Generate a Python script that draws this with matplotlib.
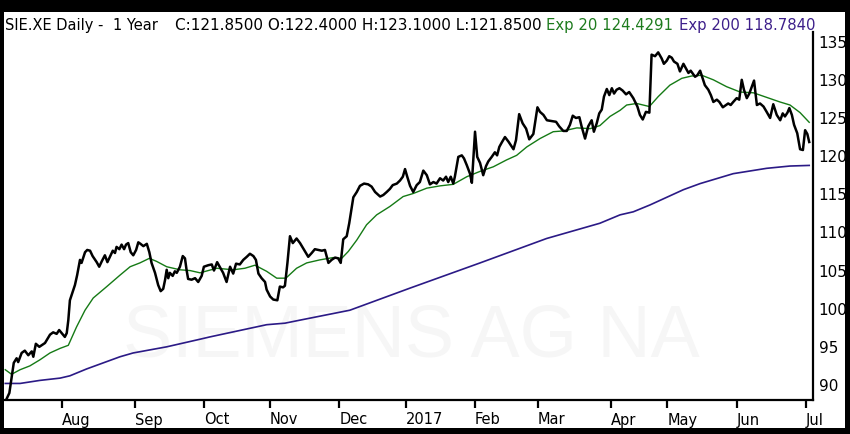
import numpy as np
import pandas as pd
import matplotlib
matplotlib.use('Agg')
import matplotlib.pyplot as plt
from matplotlib.patches import Rectangle

# trading-day index (0 = 2016-07-06)
close_day = [0, 1.3, 2.7, 3.6, 4.1, 5.2, 6.2, 7.3, 8.4, 8.9,
             9.7, 10.8, 11.5, 12.6, 14.2, 15.2, 16.3, 17.1, 17.9, 18.9,
             19.5, 20.0, 20.5, 21.4, 22.1, 22.8, 23.7, 24.2, 25.3, 26.0,
             26.9, 27.7, 29.0, 29.8, 30.6, 31.6, 32.4, 33.2, 34.1, 34.8,
             35.3, 36.2, 36.9, 37.7, 38.3, 39.0, 39.8, 40.6, 41.5, 42.2,
             42.9, 43.8, 44.9, 45.7, 46.4, 47.5, 48.5, 49.3, 50.1, 50.7,
             51.2, 51.7, 52.2, 53.1, 53.8, 54.4, 55.4, 56.3, 57.0, 57.5,
             58.0, 59.1, 60.2, 61.2, 62.3, 63.0, 64.4, 65.5, 66.2, 67.2,
             68.3, 69.1, 70.2, 71.3, 72.3, 73.2, 74.4, 75.5, 76.6, 77.6,
             78.7, 79.5, 80.3, 81.3, 82.4, 82.9, 84.0, 85.0, 86.3, 87.1,
             88.1, 88.7, 89.5, 90.3, 91.2, 92.4, 93.5, 94.5, 96.1, 97.2,
             98.2, 99.3, 100.4, 101.4, 102.5, 103.5, 104.6, 105.6, 106.4, 107.2,
             108.3, 109.1, 110.4, 111.5, 112.5, 113.8, 115.1, 116.2, 117.3, 118.9,
             119.9, 121.0, 122.0, 122.9, 124.2, 125.2, 126.1, 126.8, 127.5, 128.4,
             129.4, 130.5, 131.5, 132.6, 133.7, 134.7, 135.8, 136.8, 137.9, 138.9,
             139.8, 140.5, 141.3, 142.1, 142.6, 143.7, 144.8, 145.5, 146.4, 147.4,
             148.0, 149.0, 149.7, 150.6, 151.6, 152.5, 153.2, 154.3, 155.3, 156.0,
             156.7, 157.5, 158.5, 159.6, 161.2, 162.0, 163.0, 164.1, 165.2, 166.2,
             167.5, 168.8, 169.6, 170.7, 171.8, 173.3, 174.7, 175.7, 177.0, 178.1,
             179.1, 180.0, 181.0, 182.1, 182.8, 183.9, 184.9, 186.0, 186.7, 187.6,
             188.4, 189.2, 189.9, 190.8, 191.6, 192.4, 193.1, 193.9, 194.8, 195.8,
             196.9, 197.9, 199.2, 200.5, 201.3, 202.2, 203.2, 204.3, 205.0, 206.1,
             207.1, 208.2, 208.9, 209.8, 210.6, 211.4, 212.1, 213.2, 214.0, 215.1,
             215.9, 216.7, 217.4, 218.1, 218.8, 219.5, 220.4, 221.2, 221.9, 223.0,
             223.8, 224.6, 225.7, 226.5, 227.6, 228.6, 229.3, 230.1, 230.9, 232.0,
             232.8, 233.6, 234.3, 235.2, 236.0, 236.8, 237.5, 238.4, 239.4, 240.5,
             241.5, 242.6, 243.6, 244.7, 245.8, 246.6, 247.3, 248.1, 248.7, 249.5,
             250.2, 251.2, 252.1, 253.0, 253.7, 254.4, 255.0]
close_val = [87.8, 88.95, 92.9, 93.5, 93.0, 94.2, 94.5, 93.9, 94.4, 93.7,
             95.4, 95.0, 95.2, 95.5, 96.6, 96.9, 96.7, 97.2, 96.8, 96.3,
             96.8, 98.5, 101.1, 102.2, 103.1, 104.4, 106.4, 106.0, 107.4, 107.7,
             107.6, 106.9, 106.1, 105.5, 106.2, 107.0, 106.1, 106.8, 107.6, 107.3,
             108.1, 107.8, 108.4, 107.8, 108.4, 108.6, 107.4, 107.0, 107.7, 108.7,
             108.5, 108.2, 108.5, 107.4, 106.0, 104.7, 103.1, 102.3, 102.6, 103.8,
             105.1, 104.0, 104.7, 104.3, 104.9, 104.7, 105.5, 106.9, 106.6, 105.1,
             103.9, 103.8, 104.0, 103.5, 104.3, 105.5, 105.7, 105.8, 105.0, 106.1,
             105.3, 104.7, 103.5, 105.5, 104.6, 105.9, 105.8, 106.4, 106.8, 107.2,
             106.9, 106.4, 104.6, 104.0, 103.5, 102.5, 101.6, 101.2, 101.1, 102.9,
             102.8, 103.0, 106.0, 109.5, 108.6, 109.2, 108.6, 107.9, 106.8, 107.3,
             107.8, 107.7, 107.6, 107.7, 106.0, 106.4, 106.7, 106.6, 106.0, 109.1,
             109.5, 111.2, 114.6, 115.3, 116.1, 116.4, 116.3, 116.0, 115.3, 114.7,
             114.9, 115.3, 115.7, 116.2, 116.4, 116.8, 117.3, 118.3, 117.3, 116.1,
             115.3, 116.2, 116.6, 118.1, 117.5, 116.3, 116.6, 116.4, 117.1, 116.8,
             117.3, 116.6, 117.3, 116.4, 117.3, 119.9, 120.1, 119.7, 118.8, 117.7,
             116.5, 123.2, 119.9, 119.1, 117.5, 118.7, 119.3, 119.9, 120.5, 120.1,
             121.2, 121.8, 122.5, 121.9, 120.9, 122.1, 125.5, 124.3, 123.6, 122.2,
             122.9, 126.4, 125.8, 125.4, 124.7, 124.6, 124.5, 123.9, 123.3, 123.3,
             124.1, 125.3, 125.0, 125.1, 123.9, 122.3, 123.9, 124.7, 123.2, 124.3,
             125.6, 126.1, 127.8, 128.8, 128.0, 128.9, 128.2, 128.7, 128.9, 128.6,
             128.1, 128.4, 127.6, 126.5, 125.4, 124.8, 125.8, 125.7, 133.3, 133.1,
             133.6, 132.8, 132.1, 132.5, 133.1, 132.9, 132.4, 132.1, 131.1, 132.1,
             131.5, 130.9, 131.2, 130.8, 130.4, 130.6, 131.2, 130.2, 129.3, 128.7,
             128.0, 127.1, 127.4, 127.1, 126.4, 126.7, 126.9, 126.7, 127.1, 127.6,
             127.4, 130.0, 128.7, 127.6, 128.2, 129.1, 129.9, 126.7, 126.9, 126.5,
             125.8, 125.0, 126.8, 125.4, 124.7, 125.6, 125.2, 125.7, 126.3, 125.4,
             124.1, 123.0, 120.9, 120.8, 123.4, 122.9, 121.85]

ema20_day = [0, 2.0, 4.7, 7.8, 11.0, 14.2, 17.4, 20.0, 22.6, 25.3,
             27.9, 32.2, 36.4, 39.6, 42.7, 45.7, 48.0, 51.2, 55.4, 58.6,
             61.8, 64.4, 67.1, 72.3, 76.0, 79.2, 82.9, 86.1, 89.0, 92.4,
             95.6, 99.8, 104.0, 106.7, 108.8, 111.5, 114.6, 117.8, 122.0, 126.2,
             129.4, 133.7, 137.9, 142.1, 146.4, 150.6, 154.8, 159.0, 162.2, 165.4,
             169.6, 173.8, 177.0, 181.3, 185.5, 188.6, 191.8, 195.0, 197.1, 200.3,
             204.3, 207.1, 210.8, 214.6, 217.7, 220.9, 224.6, 228.8, 233.1, 237.3,
             241.5, 245.7, 248.9, 252.1, 255.0]
ema20_val = [92.0, 91.4, 92.0, 92.5, 93.3, 94.2, 94.8, 95.2, 97.6, 99.8,
             101.4, 102.9, 104.4, 105.5, 106.0, 106.6, 106.2, 105.5, 105.1, 105.0,
             104.7, 105.0, 105.3, 105.1, 105.3, 105.7, 104.9, 104.0, 104.0, 105.3,
             106.0, 106.4, 106.7, 106.6, 107.5, 109.0, 111.0, 112.3, 113.4, 114.7,
             115.1, 115.8, 116.1, 116.3, 117.3, 118.0, 118.6, 119.5, 120.1, 121.2,
             122.3, 123.2, 123.3, 123.7, 123.6, 124.0, 125.2, 126.0, 126.7, 126.9,
             126.5, 127.8, 129.3, 130.2, 130.5, 130.6, 130.0, 129.1, 128.4, 128.3,
             127.7, 127.1, 126.7, 125.7, 124.43]

ema200_day = [0, 4.7, 11.0, 17.4, 20.5, 25.8, 31.1, 36.4, 40.6, 45.9,
              51.2, 56.5, 61.8, 64.9, 82.9, 88.7, 93.5, 109.3, 128.4, 150.6,
              171.7, 188.6, 195.0, 199.2, 204.5, 215.1, 220.4, 230.9, 241.5, 248.9,
              255.0]
ema200_val = [90.2, 90.2, 90.6, 90.9, 91.2, 92.1, 92.9, 93.7, 94.2, 94.6,
              95.0, 95.5, 96.0, 96.3, 97.9, 98.1, 98.5, 99.8, 102.7, 106.0,
              109.2, 111.2, 112.3, 112.7, 113.6, 115.6, 116.4, 117.7, 118.4, 118.7,
              118.78]

y_ticks = [90, 95, 100, 105, 110, 115, 120, 125, 130, 135]

# Xetra trading calendar for the x axis
holidays = ['2016-12-26', '2017-04-14', '2017-04-17', '2017-05-01']
days = pd.bdate_range('2016-07-06', '2017-07-04')
days = days[~days.isin(pd.to_datetime(holidays))]
month_pos, month_lab = [], []
for i in range(1, len(days)):
    if days[i].month != days[i - 1].month:
        month_pos.append(i)
        month_lab.append('2017' if days[i].month == 1 else days[i].strftime('%b'))

W, H = 850, 434
fig = plt.figure(figsize=(W / 100, H / 100), dpi=100)
fig.patch.set_facecolor('black')
fig.add_artist(Rectangle((4 / W, 6 / H), 841 / W, 416 / H, transform=fig.transFigure,
                         facecolor='white', edgecolor='none', zorder=0))

ax = fig.add_axes([4 / W, 34 / H, 809 / W, 368 / H])
ax.set_facecolor('none')

ax.text(0.503, 0.171, 'SIEMENS AG NA', transform=ax.transAxes, ha='center', va='center',
        fontsize=53, color='#f6f6f6', family='Liberation Sans', zorder=0)

ax.plot(ema200_day, ema200_val, color='#2b1a86', lw=1.2, zorder=2)
ax.plot(ema20_day, ema20_val, color='#157a15', lw=1.0, zorder=3)
ax.plot(close_day, close_val, color='black', lw=1.8, zorder=4)

ax.set_xlim(-0.4, 256.2)
ax.set_ylim(88.03, 136.27)

for s in ['top', 'left']:
    ax.spines[s].set_visible(False)
for s in ['bottom', 'right']:
    ax.spines[s].set_linewidth(1.6)

ax.yaxis.tick_right()
ax.set_yticks(y_ticks)
ax.tick_params(axis='y', length=0, pad=4, labelsize=11)
ax.set_xticks(month_pos)
ax.set_xticklabels(month_lab, ha='left')
ax.tick_params(axis='x', length=6, width=1.6, pad=3, labelsize=10.5)

# header line
yb = 1 - 30 / H
fig.text(5 / W, yb, 'SIE.XE Daily -', fontsize=10.5, va='baseline')
fig.text(113 / W, yb, '1 Year', fontsize=10.5, va='baseline')
fig.text(175 / W, yb, 'C:121.8500 O:122.4000 H:123.1000 L:121.8500', fontsize=11, va='baseline')
fig.text(546 / W, yb, 'Exp 20 124.4291', fontsize=10.7, va='baseline', color='#1e7b1e')
fig.text(679 / W, yb, 'Exp 200 118.7840', fontsize=10.7, va='baseline', color='#3d1f8a')

fig.savefig('out.png', dpi=100, facecolor=fig.get_facecolor())
